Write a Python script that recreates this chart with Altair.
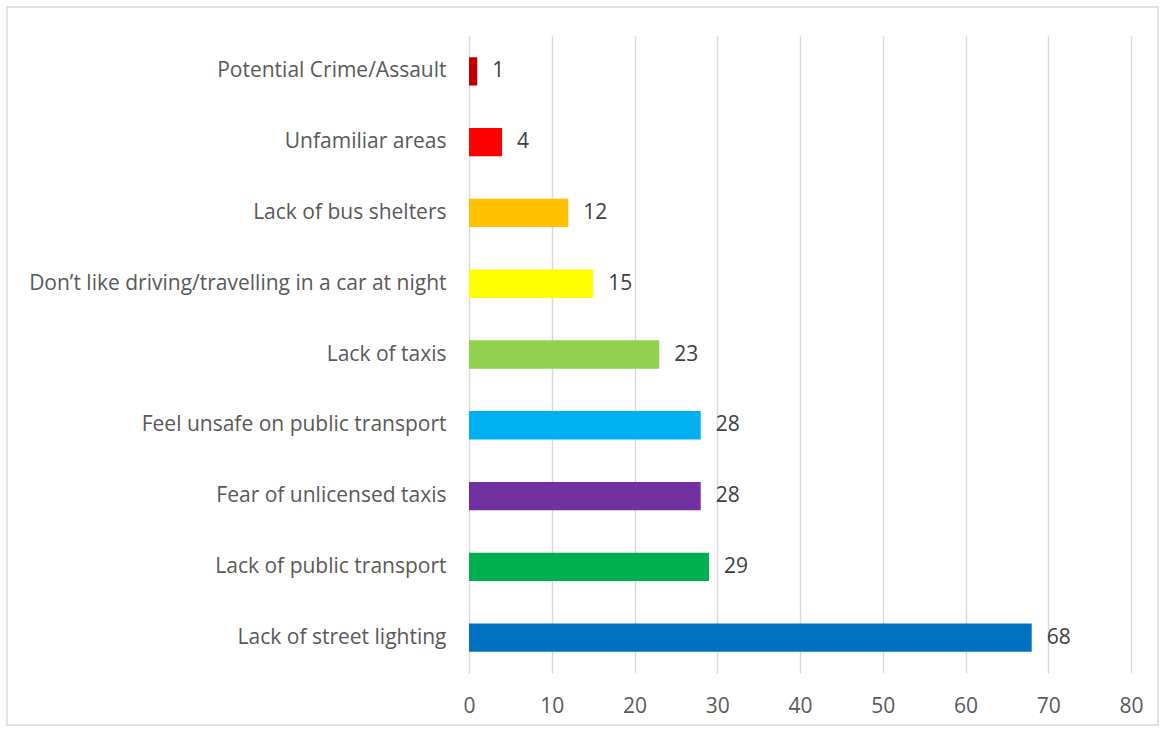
import altair as alt
import pandas as pd

categories = [
    "Potential Crime/Assault",
    "Unfamiliar areas",
    "Lack of bus shelters",
    "Don\u2019t like driving/travelling in a car at night",
    "Lack of taxis",
    "Feel unsafe on public transport",
    "Fear of unlicensed taxis",
    "Lack of public transport",
    "Lack of street lighting",
]
values = [1, 4, 12, 15, 23, 28, 28, 29, 68]
colors = ["#C00000", "#FF0000", "#FFC000", "#FFFF00", "#92D050",
          "#00B0F0", "#7030A0", "#00B050", "#0070C0"]
x_ticks = [0, 10, 20, 30, 40, 50, 60, 70, 80]

df = pd.DataFrame({"cat": categories, "val": values, "color": colors})

FONT = "Open Sans"
FS = 21
TXT = "#595959"

y_enc = alt.Y("cat:N", sort=categories,
              scale=alt.Scale(paddingInner=0.6, paddingOuter=0.3),
              axis=alt.Axis(title=None, domain=False, ticks=False, labelPadding=23,
                            labelFont=FONT, labelFontSize=FS, labelColor=TXT,
                            labelLimit=500))
x_enc = alt.X("val:Q", scale=alt.Scale(domain=[0, 80], nice=False),
              axis=alt.Axis(title=None, values=x_ticks, domain=False, ticks=False,
                            grid=True, gridColor="#D9D9D9", gridWidth=1.5,
                            labelFlush=False, labelPadding=22,
                            labelFont=FONT, labelFontSize=FS, labelColor=TXT))

bars = alt.Chart(df).mark_bar().encode(
    x=x_enc, y=y_enc, color=alt.Color("color:N", scale=None)
)
labels = alt.Chart(df).mark_text(align="left", baseline="middle", dx=15,
                                 font=FONT, fontSize=FS, color="#404040").encode(
    x="val:Q", y=alt.Y("cat:N", sort=categories), text="val:Q"
)
border = alt.Chart(pd.DataFrame({"a": [0]})).mark_rect(
    fill=None, stroke="#D9D9D9", strokeWidth=1.5
).encode(
    x=alt.value(7 - 469), x2=alt.value(1158 - 469),
    y=alt.value(7 - 36), y2=alt.value(725 - 36)
)

chart = alt.layer(border, bars, labels).properties(
    width=662, height=637,
    autosize=alt.AutoSizeParams(type="none"),
    padding={"left": 469, "top": 36, "right": 34, "bottom": 58},
    background="white"
).configure_view(stroke=None)

chart.save("out.html", embed_options={"renderer": "svg", "actions": False})
